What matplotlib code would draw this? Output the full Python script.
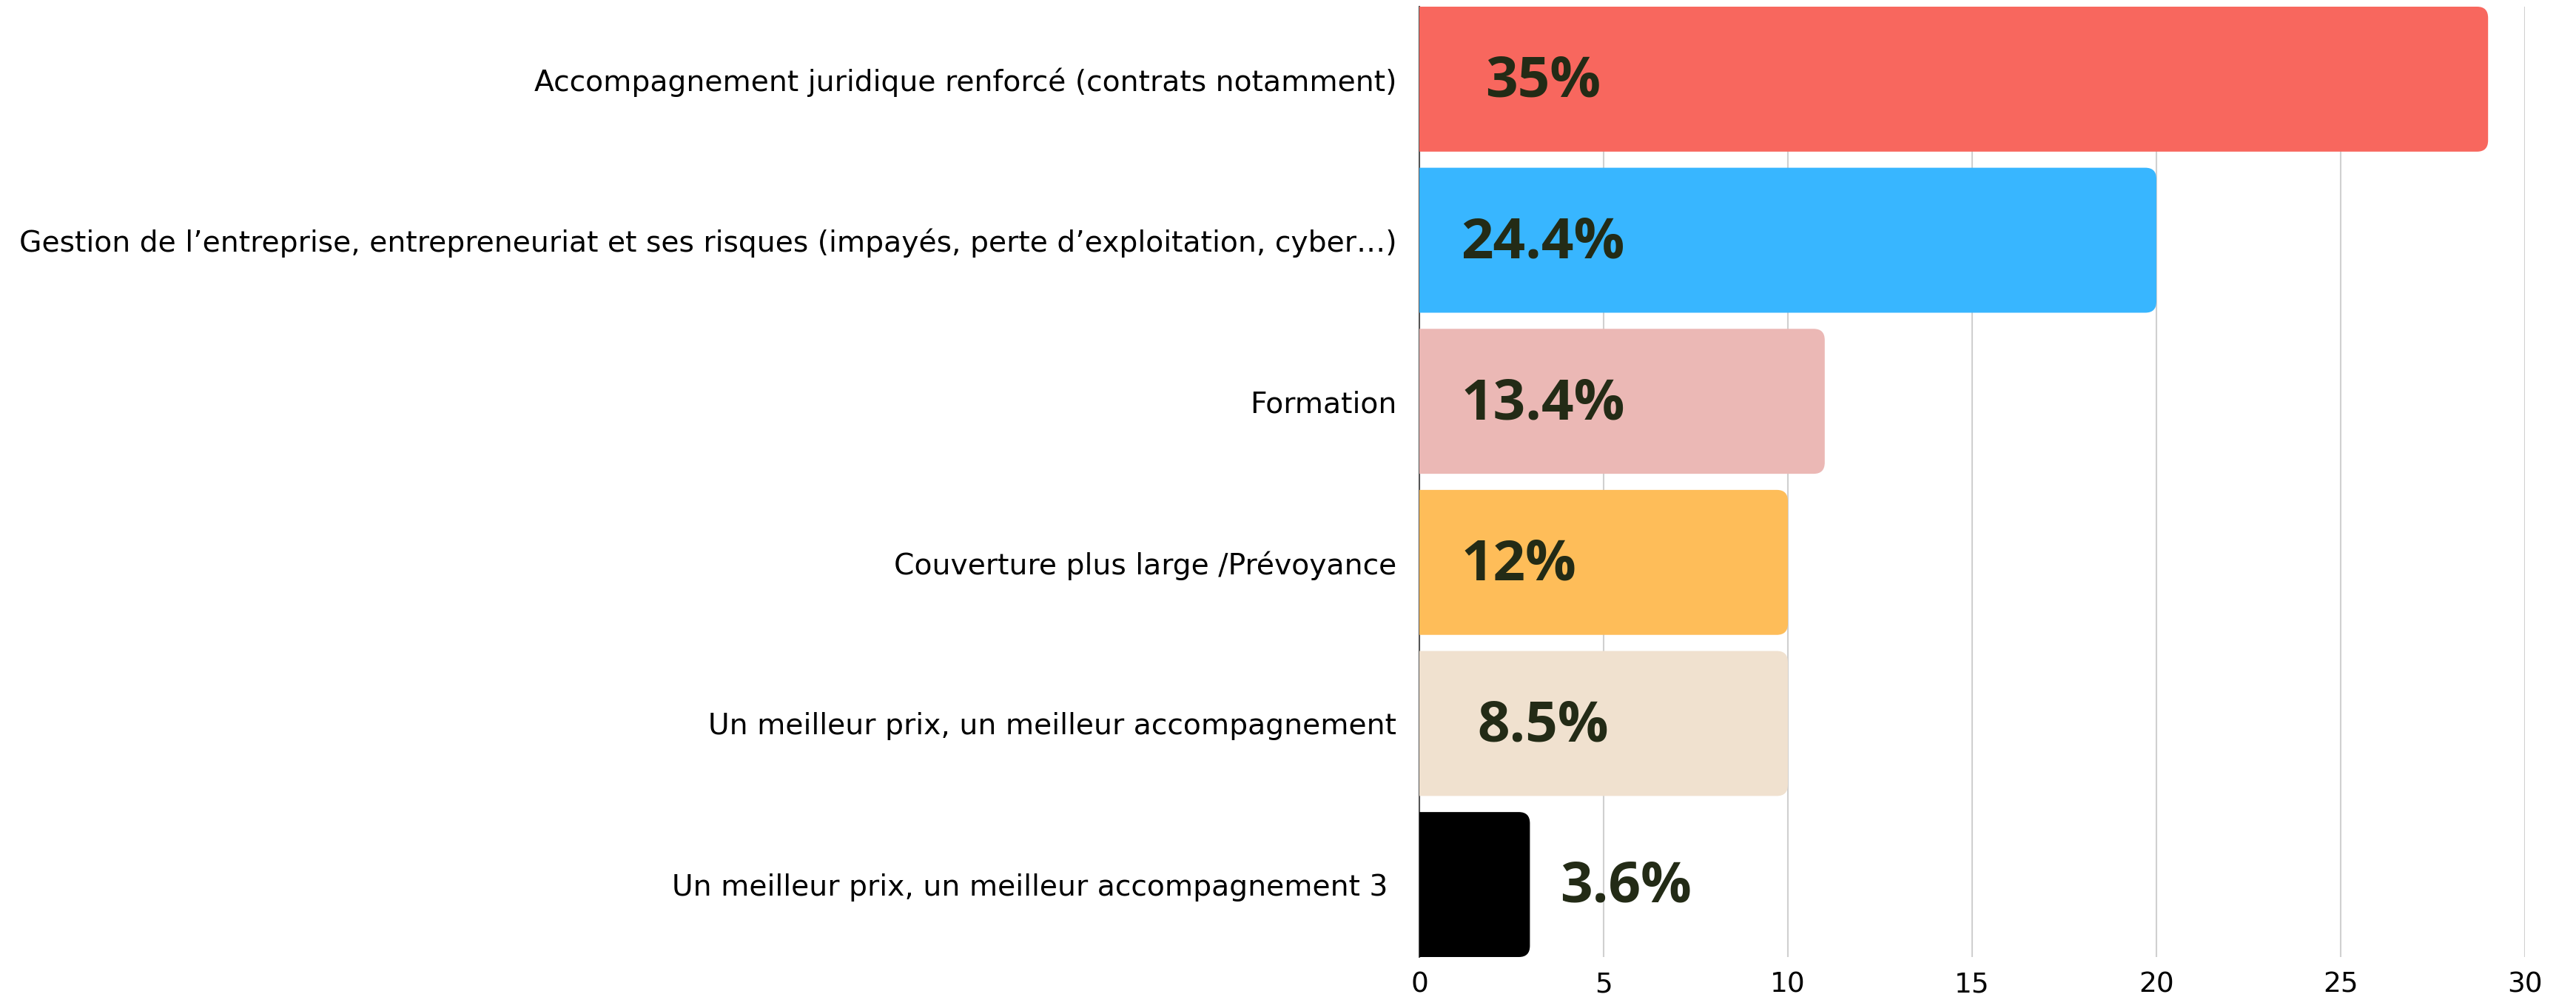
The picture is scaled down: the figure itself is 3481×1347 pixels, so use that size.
import matplotlib
matplotlib.use("Agg")
import matplotlib.pyplot as plt
from matplotlib.patches import FancyBboxPatch

categories = [
    "Accompagnement juridique renforcé (contrats notamment)",
    "Gestion de l’entreprise, entrepreneuriat et ses risques (impayés, perte d’exploitation, cyber…)",
    "Formation",
    "Couverture plus large /Prévoyance",
    "Un meilleur prix, un meilleur accompagnement",
    "Un meilleur prix, un meilleur accompagnement 3 ",
]
values = [29, 20, 11, 10, 10, 3]
value_labels = ["35%", "24.4%", "13.4%", "12%", "8.5%", "3.6%"]
label_x = [3.35, 3.35, 3.35, 2.7, 3.35, 5.6]
colors = ["#F8675E", "#38B6FF", "#EBB8B5", "#FEBD59", "#F0E1CF", "#000000"]
xticks = [0, 5, 10, 15, 20, 25, 30]

W, H, DPI = 3481, 1347, 100
fig = plt.figure(figsize=(W / DPI, H / DPI), dpi=DPI)
ax = fig.add_axes([1918 / W, 1 - 1293 / H, (3412 - 1918) / W, (1293 - 9) / H])

ypos = list(range(len(categories)))
bars = ax.barh(ypos, values, height=0.9, color="none", edgecolor="none")

ax.set_xlim(0, 30)
ax.set_ylim(5.45, -0.45)

# rounded right corners (left rounding clipped by the axes)
rx = 0.3
ry = 0.07
for b, c in zip(bars, colors):
    x0, y0 = b.get_x(), b.get_y()
    w, h = b.get_width(), b.get_height()
    p = FancyBboxPatch((x0 - 1, y0), w + 1, h,
                       boxstyle=f"round,pad=0,rounding_size={rx}",
                       mutation_aspect=ry / rx,
                       facecolor=c, edgecolor="none", zorder=3,
                       clip_on=True)
    ax.add_patch(p)
    p.set_clip_path(ax.patch)

for y, lx, t in zip(ypos, label_x, value_labels):
    ax.text(lx, y + 0.02, t, ha="center", va="center", fontsize=55,
            fontfamily="Open Sans", fontweight="bold", color="#232B16", zorder=4)

ax.set_yticks(ypos)
ax.set_yticklabels(categories, fontsize=28.3, fontfamily="DejaVu Sans", color="#000000")
ax.set_xticks(xticks)
ax.set_xticklabels([str(v) for v in xticks], fontsize=27, fontfamily="DejaVu Sans", color="#000000")
ax.tick_params(axis="y", length=0, pad=22)
ax.tick_params(axis="x", length=0, pad=14)

ax.grid(axis="x", color="#D0D0D0", linewidth=1.5, zorder=0)
ax.set_axisbelow(True)
for s in ["top", "right", "bottom"]:
    ax.spines[s].set_visible(False)
ax.spines["left"].set_color("#555555")
ax.spines["left"].set_linewidth(1.5)
ax.spines["left"].set_zorder(1)

fig.savefig("out.png", dpi=DPI, facecolor="white")
